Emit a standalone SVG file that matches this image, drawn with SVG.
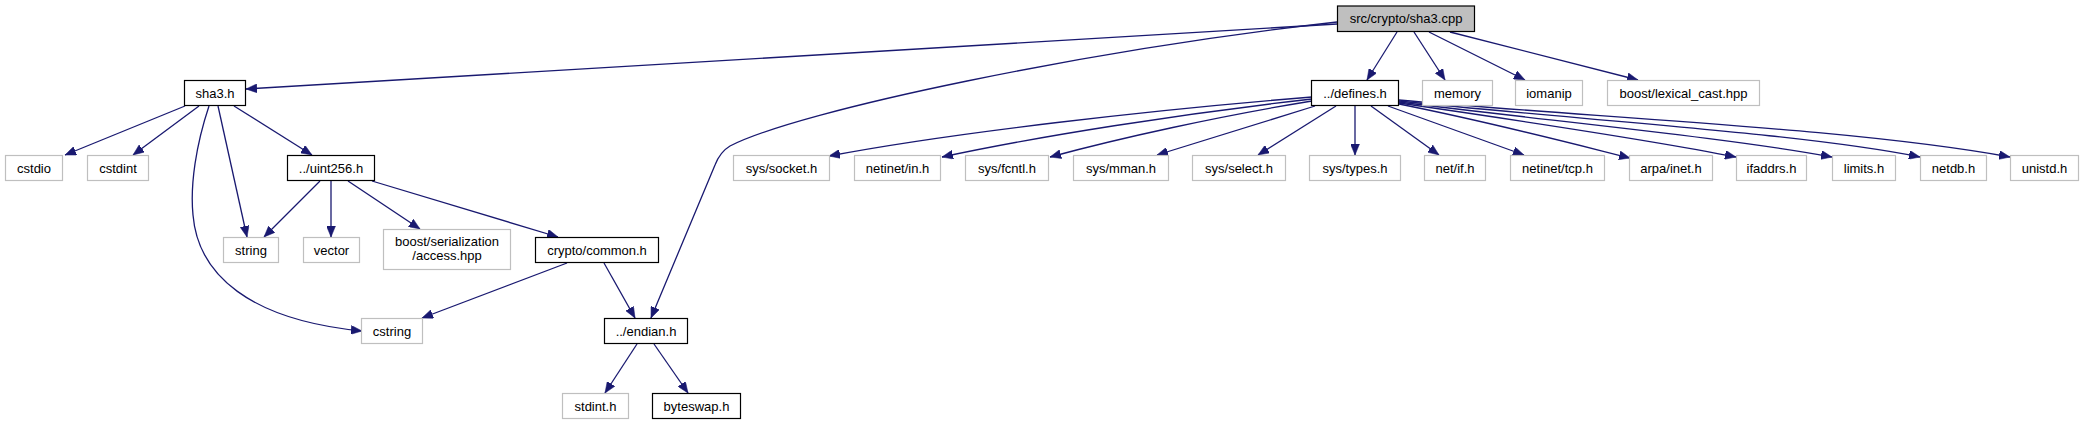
<svg xmlns="http://www.w3.org/2000/svg" width="2084" height="425" viewBox="0 0 2084 425">
<style>
.n rect{fill:#fff;stroke:#000;stroke-width:1.2}
.g rect{fill:#fff;stroke:#bfbfbf;stroke-width:1.2}
.r rect{fill:#bfbfbf;stroke:#000;stroke-width:1.2}
text{font-family:"Liberation Sans",Arial,sans-serif;font-size:13px;text-anchor:middle;fill:#000}
#edges path{fill:none;stroke:#191970;stroke-width:1.3;marker-end:url(#ah)}
</style>
<defs>
<marker id="ah" markerUnits="userSpaceOnUse" markerWidth="11" markerHeight="9" viewBox="0 0 11 9" refX="11" refY="4.5" orient="auto">
<path d="M0,0 L11,4.5 L0,9 z" fill="#191970" stroke="#191970" stroke-width="0.5"/>
</marker>
</defs>
<rect width="2084" height="425" fill="#fff"/>
<g id="edges">
<path d="M1337,24 L246,89"/>
<path d="M1337,22 C1090,50 800,110 730,146 Q720,152 715,165 L651,318"/>
<path d="M1397,32 L1367,80"/>
<path d="M1414,32 L1445,80"/>
<path d="M1429,32 L1525,80"/>
<path d="M1450,32 L1638,80"/>
<path d="M185,106 L65,155"/>
<path d="M199,106 L133,155"/>
<path d="M209,106 C196,145 190,185 193,215 C198,275 250,320 362,331"/>
<path d="M218,106 L247,237"/>
<path d="M234,106 L312,155"/>
<path d="M320,181 L264,237"/>
<path d="M331,181 L331,237"/>
<path d="M348,181 L420,229"/>
<path d="M372,181 L558,237"/>
<path d="M567,263 L422,318"/>
<path d="M604,263 L635,318"/>
<path d="M637,344 L605,393"/>
<path d="M654,344 L688,393"/>
<path d="M1312,97 C1150,110 950,133 829,156"/>
<path d="M1312,99 C1180,114 1040,136 942,157"/>
<path d="M1312,101 C1220,116 1120,138 1050,157"/>
<path d="M1315,106 L1157,155"/>
<path d="M1336,106 L1258,155"/>
<path d="M1355,106 L1355,155"/>
<path d="M1371,106 L1439,155"/>
<path d="M1388,106 L1524,155"/>
<path d="M1399,104 C1490,122 1570,143 1630,158"/>
<path d="M1399,103 C1530,122 1650,140 1736,157"/>
<path d="M1399,102 C1560,122 1730,138 1832,157"/>
<path d="M1399,101 C1580,120 1800,133 1920,157"/>
<path d="M1399,100 C1600,118 1850,128 2010,157"/>
</g>
<g id="n_sha3cpp" class="r"><rect x="1337.5" y="6" width="137" height="25.5"/><text x="1406" y="23">src/crypto/sha3.cpp</text></g>
<g id="n_sha3h" class="n"><rect x="184.5" y="80.5" width="61" height="25"/><text x="215" y="97.5">sha3.h</text></g>
<g id="n_cstdio" class="g"><rect x="5.5" y="155.5" width="57" height="25"/><text x="34" y="172.5">cstdio</text></g>
<g id="n_cstdint" class="g"><rect x="87.5" y="155.5" width="61" height="25"/><text x="118" y="172.5">cstdint</text></g>
<g id="n_uint256" class="n"><rect x="287.5" y="155.5" width="87" height="25"/><text x="331" y="172.5">../uint256.h</text></g>
<g id="n_string" class="g"><rect x="223.5" y="237.5" width="55" height="25"/><text x="251" y="254.5">string</text></g>
<g id="n_vector" class="g"><rect x="303.5" y="237.5" width="56" height="25"/><text x="331.5" y="254.5">vector</text></g>
<g id="n_access" class="g"><rect x="383.5" y="229.5" width="127" height="40"/><text x="447" y="246">boost/serialization</text><text x="447" y="260">/access.hpp</text></g>
<g id="n_common" class="n"><rect x="535.5" y="237.5" width="123" height="25"/><text x="597" y="254.5">crypto/common.h</text></g>
<g id="n_cstring" class="g"><rect x="361.5" y="318.5" width="61" height="25"/><text x="392" y="335.5">cstring</text></g>
<g id="n_endian" class="n"><rect x="604.5" y="318.5" width="83" height="25"/><text x="646" y="335.5">../endian.h</text></g>
<g id="n_stdint" class="g"><rect x="562.5" y="393.5" width="66" height="25"/><text x="595.5" y="410.5">stdint.h</text></g>
<g id="n_byteswap" class="n"><rect x="652.5" y="393.5" width="88" height="25"/><text x="696.5" y="410.5">byteswap.h</text></g>
<g id="n_defines" class="n"><rect x="1311.5" y="80.5" width="87" height="25"/><text x="1355" y="97.5">../defines.h</text></g>
<g id="n_memory" class="g"><rect x="1422.5" y="80.5" width="70" height="25"/><text x="1457.5" y="97.5">memory</text></g>
<g id="n_iomanip" class="g"><rect x="1515.5" y="80.5" width="67" height="25"/><text x="1549" y="97.5">iomanip</text></g>
<g id="n_lexical" class="g"><rect x="1607.5" y="80.5" width="152" height="25"/><text x="1683.5" y="97.5">boost/lexical_cast.hpp</text></g>
<g id="n_socket" class="g"><rect x="733.5" y="155.5" width="96" height="25"/><text x="781.5" y="172.5">sys/socket.h</text></g>
<g id="n_in" class="g"><rect x="854.5" y="155.5" width="86" height="25"/><text x="897.5" y="172.5">netinet/in.h</text></g>
<g id="n_fcntl" class="g"><rect x="965.5" y="155.5" width="83" height="25"/><text x="1007" y="172.5">sys/fcntl.h</text></g>
<g id="n_mman" class="g"><rect x="1073.5" y="155.5" width="95" height="25"/><text x="1121" y="172.5">sys/mman.h</text></g>
<g id="n_select" class="g"><rect x="1192.5" y="155.5" width="93" height="25"/><text x="1239" y="172.5">sys/select.h</text></g>
<g id="n_types" class="g"><rect x="1309.5" y="155.5" width="91" height="25"/><text x="1355" y="172.5">sys/types.h</text></g>
<g id="n_netif" class="g"><rect x="1424.5" y="155.5" width="61" height="25"/><text x="1455" y="172.5">net/if.h</text></g>
<g id="n_tcp" class="g"><rect x="1510.5" y="155.5" width="94" height="25"/><text x="1557.5" y="172.5">netinet/tcp.h</text></g>
<g id="n_arpa" class="g"><rect x="1629.5" y="155.5" width="83" height="25"/><text x="1671" y="172.5">arpa/inet.h</text></g>
<g id="n_ifaddrs" class="g"><rect x="1736.5" y="155.5" width="70" height="25"/><text x="1771.5" y="172.5">ifaddrs.h</text></g>
<g id="n_limits" class="g"><rect x="1832.5" y="155.5" width="63" height="25"/><text x="1864" y="172.5">limits.h</text></g>
<g id="n_netdb" class="g"><rect x="1920.5" y="155.5" width="66" height="25"/><text x="1953.5" y="172.5">netdb.h</text></g>
<g id="n_unistd" class="g"><rect x="2010.5" y="155.5" width="68" height="25"/><text x="2044.5" y="172.5">unistd.h</text></g>
</svg>
